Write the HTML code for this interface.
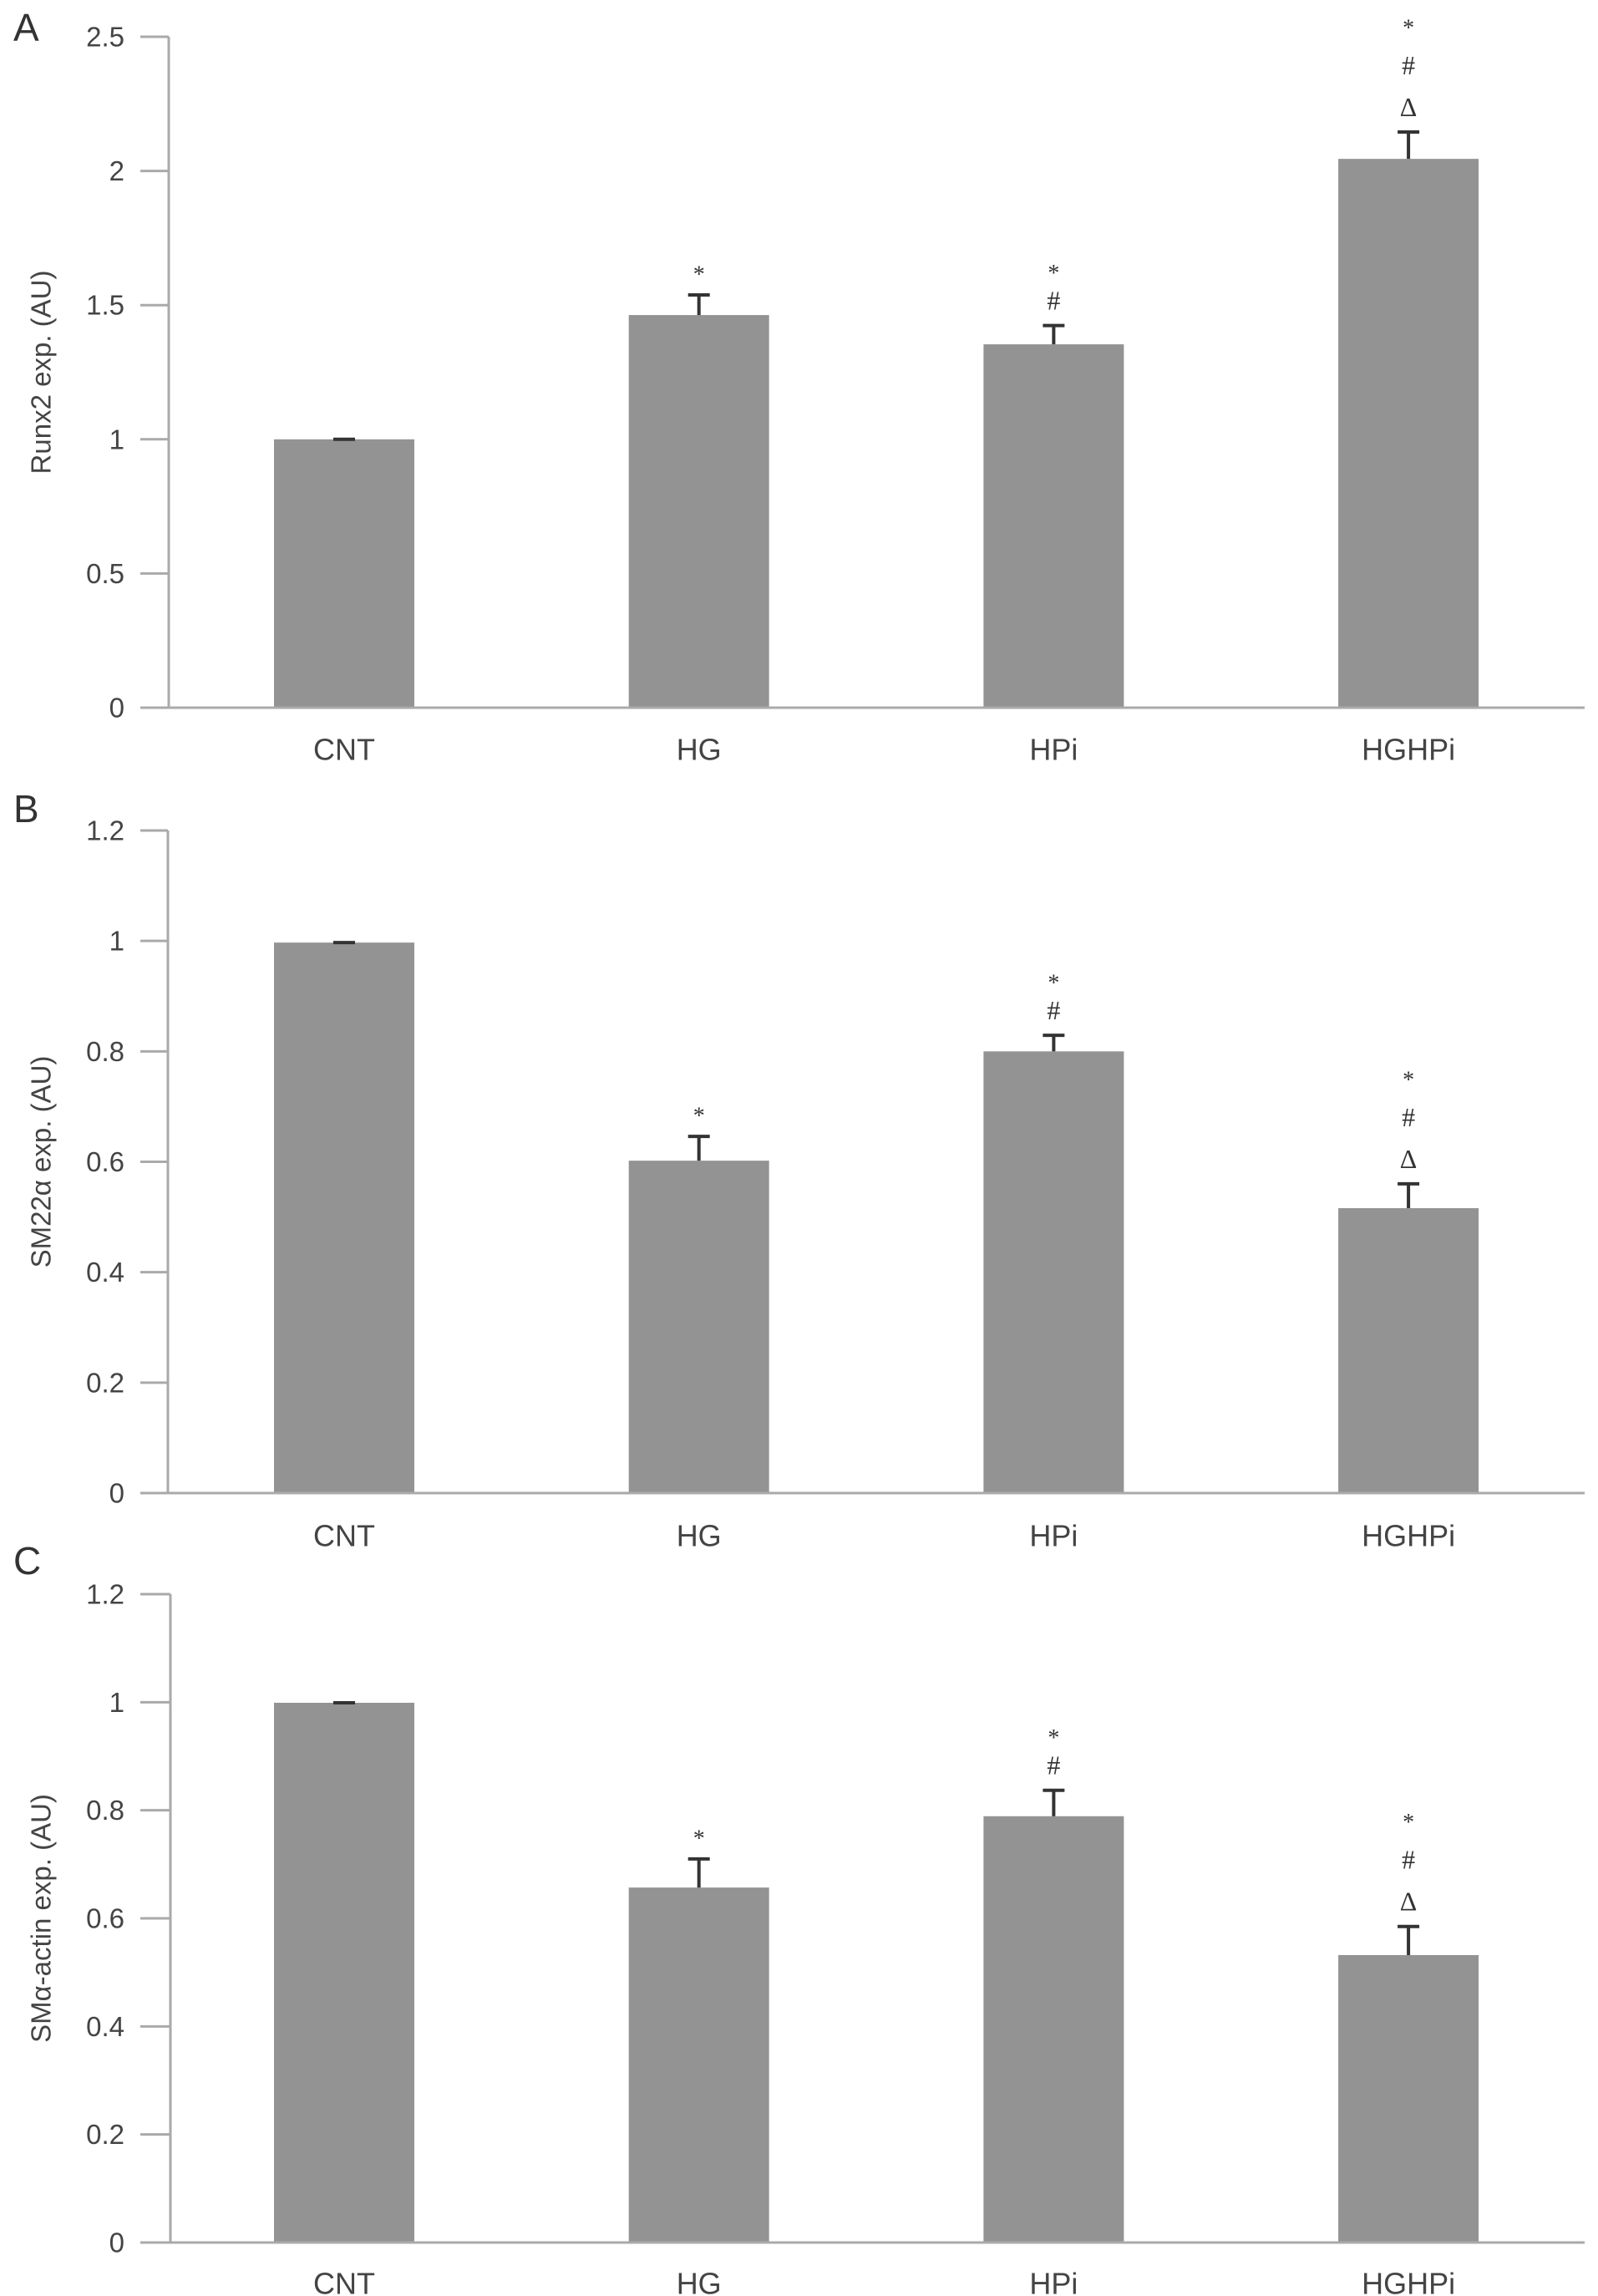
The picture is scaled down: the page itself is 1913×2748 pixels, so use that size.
<!DOCTYPE html>
<html><head><meta charset="utf-8"><style>
html,body{margin:0;padding:0;background:#fff;}
svg{display:block;font-family:"Liberation Sans",sans-serif;}
</style></head><body>
<svg id="fig" width="1913" height="2748" viewBox="0 0 1913 2748" xmlns="http://www.w3.org/2000/svg"></svg>
<script>
const categories = ["CNT","HG","HPi","HGHPi"];
const runx2Values = [1.0, 1.463, 1.354, 2.045];
const runx2Errors = [0.0, 0.075, 0.07, 0.1];
const runx2Ticks = ["0","0.5","1","1.5","2","2.5"];
const runx2Annot = [[],["*"],["#","*"],["Δ","#","*"]];
const sm22Values = [0.997, 0.602, 0.80, 0.516];
const sm22Errors = [0.0, 0.044, 0.029, 0.044];
const sm22Ticks = ["0","0.2","0.4","0.6","0.8","1","1.2"];
const sm22Annot = [[],["*"],["#","*"],["Δ","#","*"]];
const smaValues = [0.999, 0.657, 0.789, 0.532];
const smaErrors = [0.0, 0.053, 0.048, 0.053];
const smaTicks = ["0","0.2","0.4","0.6","0.8","1","1.2"];
const smaAnnot = [[],["*"],["#","*"],["Δ","#","*"]];

const svg = document.getElementById('fig');
const NS = 'http://www.w3.org/2000/svg';
function mk(tag, attrs, parent){
  const e = document.createElementNS(NS, tag);
  for (const k in attrs) e.setAttribute(k, attrs[k]);
  parent.appendChild(e);
  return e;
}
const panels = [
  {letter:"A", title:"Runx2 exp. (AU)", vals:runx2Values, errs:runx2Errors, ticks:runx2Ticks, annot:runx2Annot, max:2.5, top:44, bottom:847, letterY:33, labelY:897, axisX:202, name:'runx2'},
  {letter:"B", title:"SM22α exp. (AU)", vals:sm22Values, errs:sm22Errors, ticks:sm22Ticks, annot:sm22Annot, max:1.2, top:994, bottom:1787, letterY:968, labelY:1838, axisX:201, name:'sm22'},
  {letter:"C", title:"SMα-actin exp. (AU)", vals:smaValues, errs:smaErrors, ticks:smaTicks, annot:smaAnnot, max:1.2, top:1908, bottom:2684, letterY:1868, labelY:2733, axisX:204, name:'sma'}
];
const centers0 = 412, spacing = 424.7, barW = 168;
panels.forEach(p => {
  const g = mk('g', {}, svg);
  
  
  const y = v => p.bottom - (v / p.max) * (p.bottom - p.top);
  const x = i => centers0 + i * spacing;
  const lt = mk('text', {x:16, y:p.letterY, 'font-size':46, fill:'#333', 'dominant-baseline':'central'}, g);
  lt.textContent = p.letter;
  
  
  // ticks
  p.ticks.forEach((t, i) => {
    const v = parseFloat(t);
    const ty = y(v);
    const tl = mk('line', {x1:168, x2:p.axisX, y1:ty, y2:ty, stroke:'#aaa', 'stroke-width':3}, g);
    
    
    const tx = mk('text', {x:149, y:ty, 'font-size':33, fill:'#444', 'text-anchor':'end', 'dominant-baseline':'central'}, g);
    tx.textContent = t;
    
    
  });
  const ya = mk('line', {x1:p.axisX, x2:p.axisX, y1:p.top, y2:p.bottom, stroke:'#aaa', 'stroke-width':3}, g);
  
  
  const yt = mk('text', {x:0, y:0, 'font-size':33, fill:'#444', 'text-anchor':'middle', 'dominant-baseline':'central', transform:`translate(49,${(p.top+p.bottom)/2}) rotate(-90)`}, g);
  yt.textContent = p.title;
  
  
  p.vals.forEach((v, i) => {
    const cx = x(i);
    const b = mk('rect', {x:cx - barW/2, y:y(v), width:barW, height:p.bottom - y(v), fill:'#939393'}, g);
    
    
    const capY = y(v + p.errs[i]);
    const e1 = mk('line', {x1:cx, x2:cx, y1:y(v), y2:capY, stroke:'#333', 'stroke-width':4}, g);
    
    
    const e2 = mk('line', {x1:cx-13, x2:cx+13, y1:capY, y2:capY, stroke:'#333', 'stroke-width':4}, g);
    
    
    const syms = p.annot[i];
    const hasD = syms.indexOf('Δ') >= 0;
    const step = hasD ? 50 : 38;
    syms.forEach((s, k) => {
      const sy = capY - 30 - k * step;
      const st = mk('text', {x:cx, y:sy + (s==='*' ? 6 : 0), 'font-size': s==='*' ? 28 : 32, fill:'#333', 'text-anchor':'middle', 'dominant-baseline':'central', 'font-family':'"Liberation Serif",serif'}, g);
      st.textContent = s;
      
      
    });
    const cl = mk('text', {x:cx, y:p.labelY, 'font-size':36, fill:'#444', 'text-anchor':'middle', 'dominant-baseline':'central'}, g);
    cl.textContent = categories[i];
    
    
  });
  const xa = mk('line', {x1:168, x2:1897, y1:p.bottom, y2:p.bottom, stroke:'#aaa', 'stroke-width':3}, g);
  
  
});
</script>
</body></html>
